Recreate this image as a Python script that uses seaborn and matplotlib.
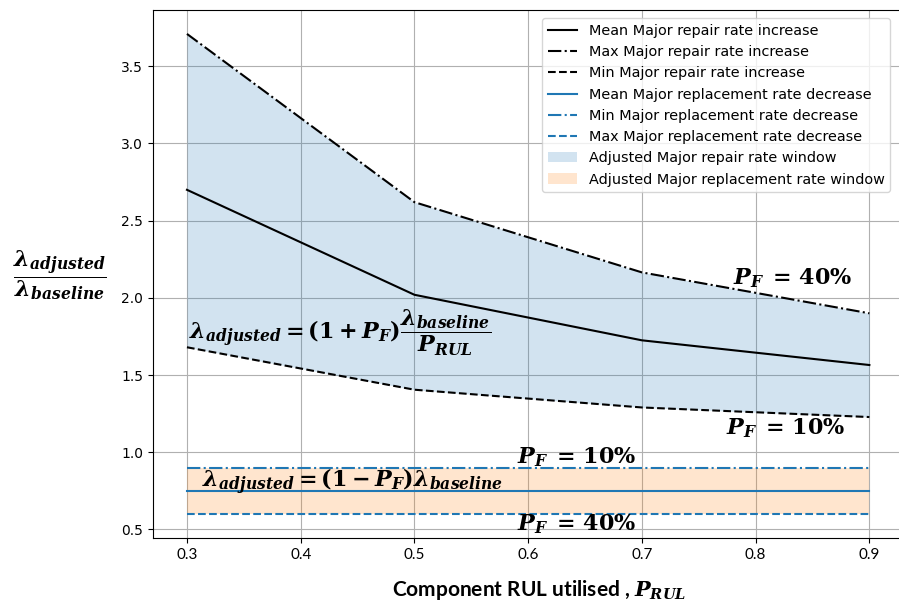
import numpy as np
import pandas as pd
import matplotlib
matplotlib.use("Agg")
import matplotlib.pyplot as plt
import seaborn as sns

# data
p_rul = [0.3, 0.5, 0.7, 0.9]
mean_repair = [2.70, 2.02, 1.725, 1.565]
max_repair = [3.71, 2.62, 2.165, 1.90]
min_repair = [1.68, 1.405, 1.29, 1.228]
mean_replace = [0.75, 0.75, 0.75, 0.75]
min_replace = [0.90, 0.90, 0.90, 0.90]
max_replace = [0.60, 0.60, 0.60, 0.60]

df = pd.DataFrame({
    "p_rul": p_rul,
    "mean_repair": mean_repair,
    "max_repair": max_repair,
    "min_repair": min_repair,
    "mean_replace": mean_replace,
    "min_replace": min_replace,
    "max_replace": max_replace,
})

plt.rcParams["mathtext.fontset"] = "dejavuserif"

fig = plt.figure(figsize=(8.99, 6.07), dpi=100)
ax = fig.add_axes([0.170, 0.1137, 0.835, 0.870])

# repair rate lines
sns.lineplot(data=df, x="p_rul", y="mean_repair", ax=ax, color="black",
             linestyle="-", label="Mean Major repair rate increase")
sns.lineplot(data=df, x="p_rul", y="max_repair", ax=ax, color="black",
             linestyle="-.", label="Max Major repair rate increase")
sns.lineplot(data=df, x="p_rul", y="min_repair", ax=ax, color="black",
             linestyle="--", label="Min Major repair rate increase")

# replacement rate lines
sns.lineplot(data=df, x="p_rul", y="mean_replace", ax=ax, color="C0",
             linestyle="-", label="Mean Major replacement rate decrease")
sns.lineplot(data=df, x="p_rul", y="min_replace", ax=ax, color="C0",
             linestyle="-.", label="Min Major replacement rate decrease")
sns.lineplot(data=df, x="p_rul", y="max_replace", ax=ax, color="C0",
             linestyle="--", label="Max Major replacement rate decrease")

ax.fill_between(df["p_rul"], df["min_repair"], df["max_repair"], color="C0",
                alpha=0.2, linewidth=0, label="Adjusted Major repair rate window")
ax.fill_between(df["p_rul"], df["max_replace"], df["min_replace"], color="C1",
                alpha=0.2, linewidth=0, label="Adjusted Major replacement rate window")

ax.grid(True, color="#b0b0b0")
ax.set_axisbelow(True)
ax.set_xlabel("")
ax.set_ylabel("")
ax.set_xlim(0.27, 0.93)
ax.set_ylim(0.4445, 3.8655)
ax.set_xticks([0.3, 0.4, 0.5, 0.6, 0.7, 0.8, 0.9])
ax.set_yticks([0.5, 1.0, 1.5, 2.0, 2.5, 3.0, 3.5])
ax.tick_params(axis="y", labelsize=10)
for t in ax.get_xticklabels():
    t.set_fontfamily("Lato")
    t.set_fontsize(11)

ax.legend(loc="upper right", bbox_to_anchor=(0.992, 0.998), fontsize=10.4,
          framealpha=0.8, labelspacing=0.5)

# annotations
txt_kw = dict(fontsize=16, va="center", ha="left")
pf40 = r"$\mathbfit{P_F}\;\mathbf{=}\,\mathbf{40\%}$"
pf10 = r"$\mathbfit{P_F}\;\mathbf{=}\,\mathbf{10\%}$"
ax.text(0.302, 1.77,
        r"$\mathbfit{\lambda_{adjusted}}\mathbf{=(1+}\mathbfit{P_F}\mathbf{)}"
        r"\dfrac{\mathbfit{\lambda_{baseline}}}{\mathbfit{P_{RUL}}}$", **txt_kw)
ax.text(0.313, 0.81,
        r"$\mathbfit{\lambda_{adjusted}}\mathbf{=(1-}\mathbfit{P_F}\mathbf{)}"
        r"\mathbfit{\lambda_{baseline}}$", **txt_kw)
ax.text(0.780, 2.125, pf40, **txt_kw)
ax.text(0.774, 1.156, pf10, **txt_kw)
ax.text(0.590, 0.968, pf10, **txt_kw)
ax.text(0.590, 0.534, pf40, **txt_kw)

# axis titles
fig.text(0.067, 1 - 275 / 607,
         r"$\dfrac{\mathbfit{\lambda_{adjusted}}}{\mathbfit{\lambda_{baseline}}}$",
         fontsize=16, ha="center", va="center")
fig.text(0.60, 1 - 590 / 607, r"Component RUL utilised , $\mathbfit{P_{RUL}}$",
         fontsize=15, fontweight="bold", fontfamily="Lato", ha="center", va="center")

fig.savefig("out.png", dpi=100)
